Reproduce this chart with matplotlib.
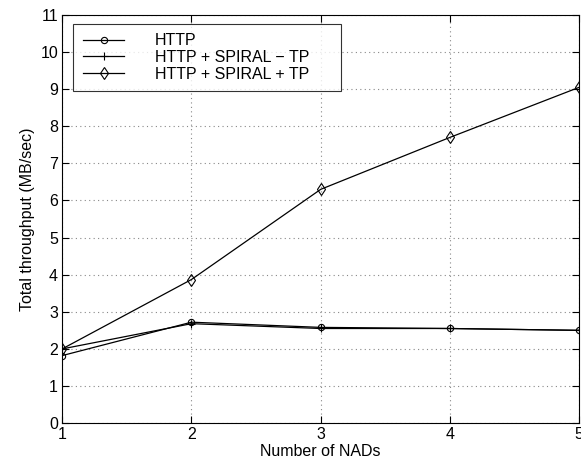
import numpy as np
import matplotlib
matplotlib.use("Agg")
import matplotlib.pyplot as plt

plt.rcParams['font.family'] = ['Liberation Sans', 'DejaVu Sans']

nads = [1, 2, 3, 4, 5]
http = [1.82, 2.72, 2.58, 2.55, 2.50]
spiral_no_tp = [2.00, 2.68, 2.55, 2.55, 2.50]
spiral_tp = [2.00, 3.87, 6.30, 7.70, 9.05]

fs = 11.5

fig = plt.figure(figsize=(5.81, 4.66), dpi=100)
ax = fig.add_axes([0.107, 0.092, 0.890, 0.876])

ax.plot(nads, http, color='black', lw=0.9, marker='o', ms=4.5, mfc='none', mec='black', mew=0.8, label='HTTP')
ax.plot(nads, spiral_no_tp, color='black', lw=0.9, marker='+', ms=6, mew=0.8, label='HTTP + SPIRAL \u2212 TP')
ax.plot(nads, spiral_tp, color='black', lw=0.9, marker='d', ms=6, mfc='none', mec='black', mew=0.8, label='HTTP + SPIRAL + TP')

ax.set_xlim(1, 5)
ax.set_ylim(0, 11)
ax.set_xticks(nads)
ax.set_yticks(range(0, 12))
ax.tick_params(direction='in', top=True, right=True, labelsize=fs, length=5, width=0.8, pad=3)
ax.grid(True, color='#888888', linestyle=(0, (1, 3)), lw=0.8)
for s in ax.spines.values():
    s.set_linewidth(0.8)

ax.set_xlabel('Number of NADs', fontsize=fs, labelpad=1.5)
ax.set_ylabel('Total throughput (MB/sec)', fontsize=fs, labelpad=4)

# legend box stretched to a fixed width in the upper left corner
leg = ax.legend(loc='upper left', bbox_to_anchor=(0.0213, 0.5, 0.518, 0.478), mode='expand',
                borderaxespad=0, fontsize=fs, frameon=True, fancybox=False, edgecolor='black',
                handlelength=2.6, borderpad=0.6, labelspacing=0.1, handletextpad=1.9)
leg.get_frame().set_linewidth(0.8)

fig.savefig('out.png', dpi=100)
